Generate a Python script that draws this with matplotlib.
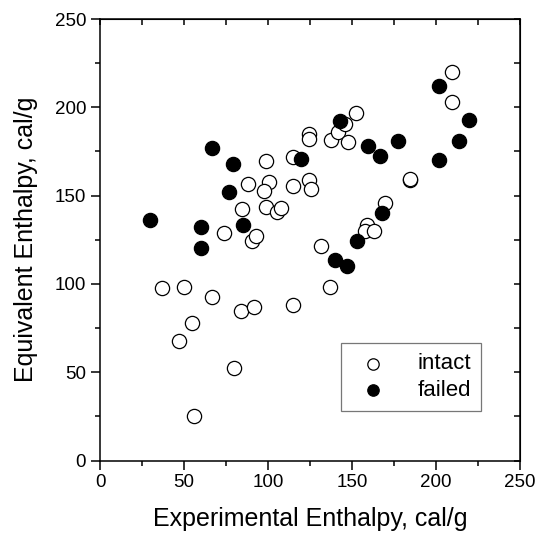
import matplotlib
matplotlib.use('Agg')
import matplotlib.pyplot as plt
from matplotlib.ticker import MultipleLocator

plt.rcParams['font.family'] = ['Liberation Sans', 'DejaVu Sans']

# intact rods (open circles)
intact_x = [36.9, 49.8, 66.9, 83.7, 91.7, 114.7, 54.8, 47.0, 79.9, 55.8,
            131.6, 136.8, 74.0, 84.7, 87.8, 90.2, 92.8, 98.8, 114.7, 100.8,
            97.6, 115.0, 124.6, 125.6, 98.8, 105.6, 107.7, 124.6, 124.6, 137.7,
            141.8, 145.8, 152.6, 147.8, 159.0, 157.7, 163.0, 169.6, 184.5, 184.3,
            209.6, 209.6]
intact_y = [97.5, 98.5, 92.8, 84.8, 87.2, 87.8, 78.1, 67.4, 52.3, 25.2,
            121.3, 98.1, 128.8, 142.2, 156.7, 124.3, 127.2, 169.8, 171.6, 157.8,
            152.6, 155.7, 158.8, 153.8, 143.7, 140.6, 142.8, 184.9, 182.3, 181.5,
            186.0, 190.4, 196.7, 180.4, 133.5, 129.8, 129.9, 146.0, 158.6, 159.3,
            220.1, 203.1]

# failed rods (filled circles)
failed_x = [29.8, 60.0, 60.0, 66.9, 78.9, 77.0, 85.2, 119.6, 142.6, 159.8,
            166.7, 177.6, 139.7, 146.8, 152.7, 167.7, 201.5, 219.7, 213.4, 201.7]
failed_y = [136.0, 132.4, 120.1, 177.2, 167.8, 152.1, 133.4, 170.7, 192.5, 178.2,
            172.6, 180.7, 113.3, 110.4, 124.5, 140.3, 212.3, 193.0, 180.7, 170.4]

fig = plt.figure(figsize=(5.40, 5.41), dpi=100)
ax = fig.add_axes([100/540, 80.5/541, 420/540, 441.5/541])

ax.scatter(intact_x, intact_y, s=105, facecolors='white', edgecolors='black',
           linewidths=0.9, label='intact', zorder=3)
ax.scatter(failed_x, failed_y, s=105, facecolors='black', edgecolors='black',
           linewidths=0.9, label='failed', zorder=3)

ax.set_xlim(0, 250)
ax.set_ylim(0, 250)
ax.xaxis.set_major_locator(MultipleLocator(50))
ax.xaxis.set_minor_locator(MultipleLocator(25))
ax.yaxis.set_major_locator(MultipleLocator(50))
ax.yaxis.set_minor_locator(MultipleLocator(25))

for s in ax.spines.values():
    s.set_linewidth(1.1)

ax.tick_params(which='both', direction='out', top=False, right=False,
               labelsize=13.5, width=1.1, pad=3.5)
ax.tick_params(which='major', length=6.5)
ax.tick_params(which='minor', length=3.5)

# inward ticks on the top and right sides
sec_x = ax.secondary_xaxis('top')
sec_x.xaxis.set_major_locator(MultipleLocator(50))
sec_x.xaxis.set_minor_locator(MultipleLocator(25))
sec_x.tick_params(which='both', direction='in', length=4, width=1.1, labeltop=False)
sec_y = ax.secondary_yaxis('right')
sec_y.yaxis.set_major_locator(MultipleLocator(50))
sec_y.yaxis.set_minor_locator(MultipleLocator(25))
sec_y.tick_params(which='both', direction='in', length=4, width=1.1, labelright=False)

ax.set_xlabel('Experimental Enthalpy, cal/g', fontsize=18, labelpad=11)
ax.set_ylabel('Equivalent Enthalpy, cal/g', fontsize=18, labelpad=12)

leg = ax.legend(loc='lower right', bbox_to_anchor=(0.907, 0.112), fontsize=16,
                frameon=True, fancybox=False, edgecolor='#555555',
                handletextpad=1.0, borderpad=0.45, markerscale=0.8,
                labelspacing=0.25, borderaxespad=0)
leg.get_frame().set_linewidth(0.9)

fig.savefig('out.png', dpi=100)
